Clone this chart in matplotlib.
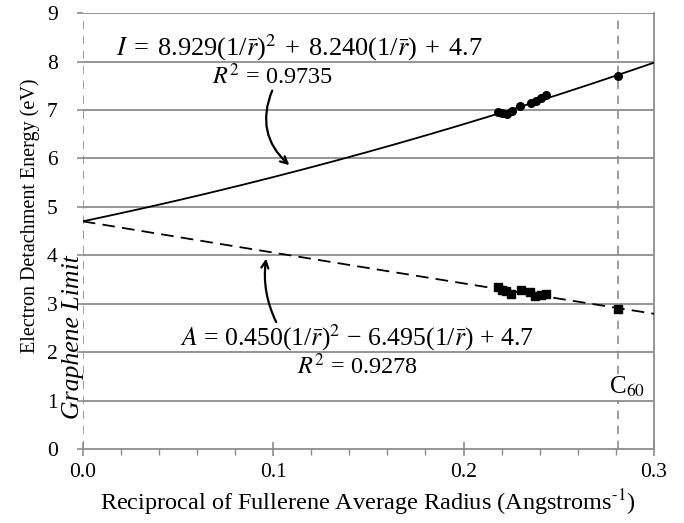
import matplotlib
matplotlib.use("Agg")
import matplotlib.pyplot as plt
import numpy as np
from matplotlib.ticker import MultipleLocator

plt.rcParams['font.family'] = ['Liberation Serif', 'DejaVu Serif']
plt.rcParams['mathtext.fontset'] = 'stix'

# Data
inv_r_I = [0.2183, 0.2204, 0.2230, 0.2253, 0.2297, 0.2353, 0.2379, 0.2405, 0.2435, 0.2811]
ie_vals = [6.95, 6.94, 6.92, 6.97, 7.09, 7.15, 7.18, 7.25, 7.31, 7.71]
inv_r_A = [0.2183, 0.2204, 0.2225, 0.2251, 0.2300, 0.2348, 0.2378, 0.2405, 0.2435, 0.2811]
ea_vals = [3.35, 3.29, 3.26, 3.21, 3.28, 3.24, 3.16, 3.18, 3.20, 2.90]
fit_I = [8.929, 8.240, 4.7]
fit_A = [0.450, -6.495, 4.7]
c60_x = 0.2811
x_ticks = [0.0, 0.1, 0.2, 0.3]
x_tick_labels = ['0.0', '0.1', '0.2', '0.3']
y_ticks = list(range(0, 10))

GRID = '#8c8c8c'
SP = '\u2004'

fig = plt.figure(figsize=(6.84, 5.23), dpi=100)
ax = fig.add_axes([0.121, 0.1415, 0.835, 0.8335])

xs = np.linspace(0, 0.3, 200)
ax.plot(xs, np.polyval(fit_I, xs), color='black', lw=1.3, zorder=3)
ax.plot(xs, np.polyval(fit_A, xs), color='black', lw=1.3, ls=(0, (7, 4)), zorder=3)
ax.plot(inv_r_I, ie_vals, 'o', color='black', ms=5.5, zorder=4)
ax.plot(inv_r_A, ea_vals, 's', color='black', ms=5.5, zorder=4)

ax.set_xlim(0, 0.3)
ax.set_ylim(0, 9)
ax.set_xticks(x_ticks)
ax.set_xticklabels(x_tick_labels)
ax.xaxis.set_minor_locator(MultipleLocator(0.02))
ax.set_yticks(y_ticks)

for y in y_ticks[1:]:
    ax.axhline(y, color=GRID, lw=1.3, zorder=1)

ax.axvline(0, color=GRID, lw=1.2, ls=(0, (5, 4)), zorder=1)
ax.axvline(c60_x, color=GRID, lw=1.2, ls=(0, (5, 4)), zorder=1)

ax.spines['left'].set_visible(False)
ax.spines['top'].set_visible(False)
ax.spines['right'].set_color(GRID)
ax.spines['bottom'].set_color(GRID)
ax.spines['right'].set_linewidth(1.3)
ax.spines['bottom'].set_linewidth(1.3)

ax.tick_params(axis='x', which='major', direction='inout', length=10, color=GRID, width=1.2,
               labelsize=15.5, pad=5)
ax.tick_params(axis='x', which='minor', direction='out', length=4, color=GRID, width=1.0)
ax.tick_params(axis='y', which='major', direction='out', length=4, color=GRID, width=1.2,
               labelsize=15.5, pad=14)

ax.set_xlabel(r'Reciprocal of Fullerene Average Radius (Angstroms$^{\text{-1}}$)', fontsize=17.5, labelpad=4)
ax.set_ylabel('Electron Detachment Energy (eV)', fontsize=14.5)
ax.yaxis.set_label_coords(-0.075, 0.534)

ax.text(0.114, 8.29,
        r'$I$' + SP + '=' + SP + r'8.929(1/$\bar{r}$)$^2$' + SP + '+' + SP + r'8.240(1/$\bar{r}$)' + SP + '+' + SP + '4.7',
        fontsize=19, ha='center', va='center', zorder=5)
ax.text(0.0997, 7.69, r'$R^2$ = 0.9735', fontsize=17.5, ha='center', va='center', zorder=5)
ax.text(0.1437, 2.29, r'$A$ = 0.450(1/$\bar{r}$)$^2$ − 6.495(1/$\bar{r}$) + 4.7', fontsize=18.5,
        ha='center', va='center', zorder=5)
ax.text(0.144, 1.71, r'$R^2$ = 0.9278', fontsize=17.5, ha='center', va='center', zorder=5)

ax.text(-0.0052, 2.3, 'Graphene Limit', rotation=90, style='italic', fontsize=18.5,
        ha='center', va='center', zorder=5, clip_on=False)
ax.text(0.2764, 1.03, r'C$_{60}$', fontsize=18, ha='left', va='bottom', zorder=5,
        bbox=dict(facecolor='white', edgecolor='none', pad=0.5))

ax.annotate('', xy=(0.1085, 5.86), xytext=(0.0995, 7.40),
            arrowprops=dict(arrowstyle='->,head_length=0.5,head_width=0.25', color='black', lw=1.6,
                            connectionstyle='arc3,rad=0.35', shrinkA=0, shrinkB=0), zorder=5)
ax.annotate('', xy=(0.0963, 3.93), xytext=(0.1016, 2.62),
            arrowprops=dict(arrowstyle='->,head_length=0.5,head_width=0.25', color='black', lw=1.6,
                            connectionstyle='arc3,rad=-0.15', shrinkA=0, shrinkB=0), zorder=5)

fig.savefig('out.png', dpi=100)
